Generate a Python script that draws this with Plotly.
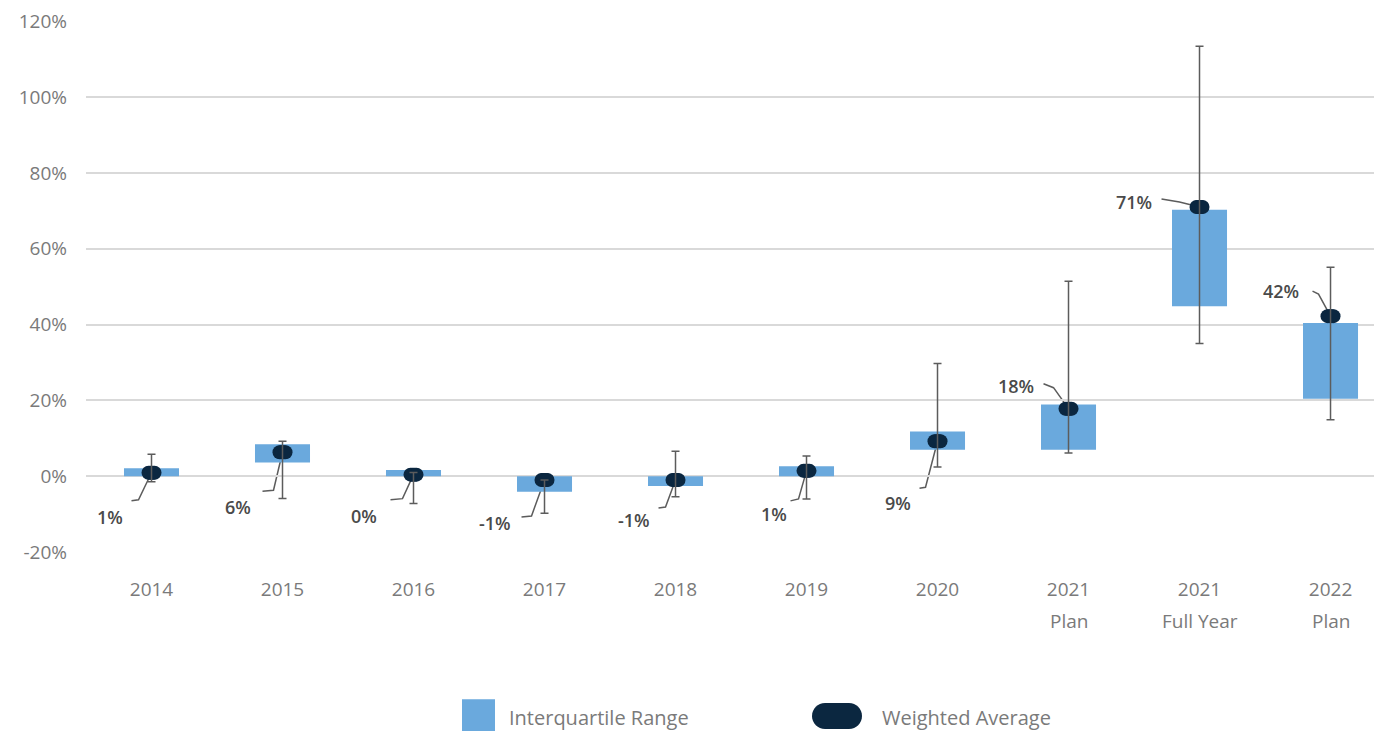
import plotly.graph_objects as go

# ---- data ----
categories = ["2014", "2015", "2016", "2017", "2018", "2019", "2020",
              "2021 Plan", "2021 Full Year", "2022 Plan"]
tick_line1 = ["2014", "2015", "2016", "2017", "2018", "2019", "2020", "2021", "2021", "2022"]
tick_line2 = ["", "", "", "", "", "", "", "Plan", "Full Year", "Plan"]
q1 = [0.0, 3.6, 0.0, -4.1, -2.6, 0.0, 7.0, 7.0, 44.8, 20.4]        # interquartile low
q3 = [2.1, 8.4, 1.6, 0.0, 0.0, 2.6, 11.8, 18.9, 70.3, 40.4]        # interquartile high
wavg = [0.9, 6.3, 0.4, -1.0, -1.0, 1.4, 9.2, 17.8, 71.0, 42.2]     # weighted average
whisk_lo = [-1.5, -5.9, -7.2, -9.8, -5.4, -6.0, 2.4, 6.1, 35.0, 14.9]
whisk_hi = [5.8, 9.2, 1.0, -1.0, 6.6, 5.3, 29.7, 51.4, 113.4, 55.1]
y_ticks = [-20, 0, 20, 40, 60, 80, 100, 120]
series_names = ["Interquartile Range", "Weighted Average"]

# ---- style ----
BLUE = "#6aa9dd"
NAVY = "#0b2740"
WHISK = "#5c5c5c"
FONT = "Open Sans"
TICK_COLOR = "#7a7a7a"
LABEL_COLOR = "#4a4a4a"

# figure geometry (page body adds an 8px margin)
W, H = 1374, 723
ML, MT, MB, MR = 78, 10, 179, 0
PLOT_W = W - ML - MR
PLOT_H = H - MT - MB
PAGE_OFF = 8
X_RANGE = [-0.5, 9.393]   # last category slot runs past the right edge, as in the original


def paper_x(screen_x):
    return (screen_x - PAGE_OFF - ML) / PLOT_W


def paper_y(screen_y):
    return (MT + PLOT_H - (screen_y - PAGE_OFF)) / PLOT_H


xs = list(range(len(categories)))

# label layout: (leader elbow dx, dy), (leader end dx, dy), (label dx, dy) in screen px (y down)
label_layout = [
    ((-13, 27), (-20, 28), (-42, 44)),
    ((-9, 38), (-20, 39), (-45, 55)),
    ((-11, 24), (-23, 25), (-50, 41)),
    ((-13, 36), (-23, 37), (-50, 43)),
    ((-10, 27), (-17, 28), (-42, 40)),
    ((-8, 28), (-16, 30), (-33, 43)),
    ((-12, 46), (-18, 47), (-40, 62)),
    ((-15, -21), (-25, -25), (-53, -23)),
    ((-20, -5), (-38, -8), (-66, -5)),
    ((-12, -22), (-18, -25), (-50, -25)),
]

fig = go.Figure()

fig.add_trace(go.Bar(
    x=xs, y=[h - l for l, h in zip(q1, q3)], base=q1, width=0.42,
    marker=dict(color=BLUE, line=dict(width=0)),
    name=series_names[0], hoverinfo="skip", showlegend=False,
))

# pill-shaped weighted average marker built from overlapping circles
pill_offsets = [-0.023, -0.0115, 0.0, 0.0115, 0.023]
px, py = [], []
for x, v in zip(xs, wavg):
    for o in pill_offsets:
        px.append(x + o)
        py.append(v)
fig.add_trace(go.Scatter(
    x=px, y=py, mode="markers",
    marker=dict(symbol="circle", size=14, color=NAVY, line=dict(width=0)),
    name=series_names[1], hoverinfo="skip", showlegend=False,
))

# whiskers (min/max)
fig.add_trace(go.Scatter(
    x=xs, y=wavg, mode="markers",
    marker=dict(size=1, color="rgba(0,0,0,0)"),
    error_y=dict(type="data", symmetric=False,
                 array=[h - v for h, v in zip(whisk_hi, wavg)],
                 arrayminus=[v - l for v, l in zip(wavg, whisk_lo)],
                 color=WHISK, thickness=1.5, width=4),
    showlegend=False, hoverinfo="skip",
))

annotations = []
shapes = []
for x, v, lay in zip(xs, wavg, label_layout):
    (ex, ey), (hx, hy), (lx, ly) = lay
    shapes.append(dict(
        type="path", layer="below", xref="x", yref="y",
        xsizemode="pixel", ysizemode="pixel", xanchor=x, yanchor=v,
        path=f"M0,0 L{ex},{-ey} L{hx},{-hy}",
        line=dict(color=WHISK, width=1.5),
    ))
    annotations.append(dict(
        x=x, y=v, xref="x", yref="y", text=f"{round(v):.0f}%", showarrow=False,
        xshift=lx, yshift=-ly, xanchor="center", yanchor="middle",
        font=dict(family=FONT, size=18, color=LABEL_COLOR, weight=600),
    ))

for x, t in zip(xs, tick_line2):
    if t:
        annotations.append(dict(
            x=x, y=0, xref="x", yref="paper", text=t, showarrow=False,
            yshift=-69, xanchor="center", yanchor="middle",
            font=dict(family=FONT, size=19, color=TICK_COLOR),
        ))

# ---- legend (drawn at bottom centre) ----
LEG_Y = 718
shapes.append(dict(
    type="rect", xref="paper", yref="paper", layer="above",
    x0=paper_x(462), x1=paper_x(495), y0=paper_y(732), y1=paper_y(700),
    fillcolor=BLUE, line=dict(width=0),
))
pill_path = ("M-12,13 L12,13 C19.2,13 25,7.2 25,0 C25,-7.2 19.2,-13 12,-13 "
             "L-12,-13 C-19.2,-13 -25,-7.2 -25,0 C-25,7.2 -19.2,13 -12,13 Z")
shapes.append(dict(
    type="path", xref="paper", yref="paper", layer="above",
    xsizemode="pixel", ysizemode="pixel", xanchor=paper_x(837), yanchor=paper_y(717),
    path=pill_path, fillcolor=NAVY, line=dict(width=0),
))
for name, sx in zip(series_names, [507, 880]):
    annotations.append(dict(
        x=paper_x(sx), y=paper_y(LEG_Y), xref="paper", yref="paper", text=name,
        showarrow=False, xanchor="left", yanchor="middle",
        font=dict(family=FONT, size=20, color=TICK_COLOR),
    ))

fig.update_layout(
    width=W, height=H,
    margin=dict(l=ML, r=MR, t=MT, b=MB),
    paper_bgcolor="white", plot_bgcolor="white",
    barmode="overlay",
    showlegend=False,
    font=dict(family=FONT, color=TICK_COLOR),
    annotations=annotations,
    shapes=shapes,
)
fig.update_xaxes(
    range=X_RANGE, tickvals=xs, ticktext=tick_line1, showgrid=False,
    zeroline=False, showline=False, ticks="",
    tickfont=dict(family=FONT, size=19, color=TICK_COLOR), ticklabelstandoff=24,
)
fig.update_yaxes(
    range=[-20, 120.05], tickvals=y_ticks, ticktext=[f"{t}%" for t in y_ticks],
    showgrid=True, gridcolor="#d9d9d9", gridwidth=1.5, zeroline=False, showline=False,
    ticks="", ticklabeloverflow="allow",
    tickfont=dict(family=FONT, size=19, color=TICK_COLOR), ticklabelstandoff=18,
)

fig.write_html("out.html")
